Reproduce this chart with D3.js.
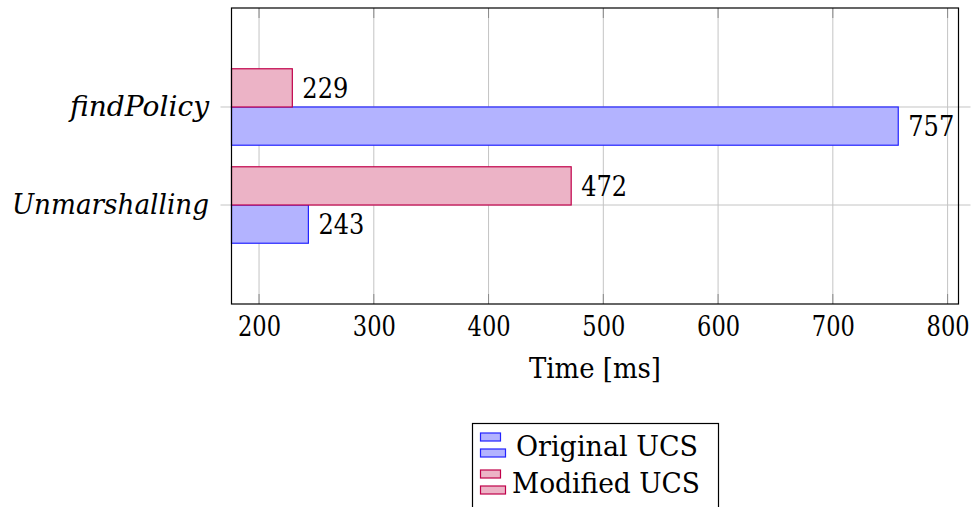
<!DOCTYPE html>
<html lang="en">
<head>
    <meta charset="UTF-8">
    <title>Time per operation</title>
    <style>
        body {
            margin: 0;
            background-color: white;
        }

        svg {
            display: block;
        }

        svg text {
            font-family: 'DejaVu Serif', serif;
        }

        .grid line {
            stroke: #c4c4c4;
            stroke-width: 1px;
        }

        .tick-mark {
            stroke: #8a8a8a;
            stroke-width: 1px;
        }

        .frame {
            fill: none;
            stroke: black;
            stroke-width: 1.2px;
        }
    </style>
    <script src="https://d3js.org/d3.v7.min.js"></script>
</head>
<body>

<script>
    // data, bottom category first
    const categories = ["Unmarshalling", "findPolicy"];
    const originalUCS = [243, 757];
    const modifiedUCS = [472, 229];
    const xTicks = [200, 300, 400, 500, 600, 700, 800];
    const seriesNames = ["Original UCS", "Modified UCS"];

    const width = 971;
    const height = 507;

    const plot = {left: 231.5, right: 958.5, top: 8, bottom: 304};
    const fs = 28;
    const numLen = 46; // width of a 3-digit number in the original

    const blue = {fill: "#b3b3ff", stroke: "#2424ff"};
    const pink = {fill: "#ecb3c6", stroke: "#c0004a"};

    const svg = d3.select("body")
                  .append("svg")
                  .attr("width", width)
                  .attr("height", height);

    const x = d3.scaleLinear()
                .domain([176, 809.5])
                .range([plot.left, plot.right]);

    const y = d3.scaleLinear()
                .domain([-1.01, 2.01])
                .range([plot.bottom, plot.top]);

    const barH = y(0) - y(0.39);

    // vertical grid
    const grid = svg.append("g").attr("class", "grid");
    grid.selectAll(".vgrid")
        .data(xTicks)
        .enter()
        .append("line")
        .attr("x1", d => x(d)).attr("x2", d => x(d))
        .attr("y1", plot.top).attr("y2", plot.bottom);

    // horizontal grid, sticking out on both sides like pgfplots ticks
    grid.selectAll(".hgrid")
        .data(categories)
        .enter()
        .append("line")
        .attr("x1", plot.left - 11).attr("x2", plot.right + 12)
        .attr("y1", (d, i) => y(i)).attr("y2", (d, i) => y(i));

    const ticks = svg.append("g");
    xTicks.forEach(t => {
        ticks.append("line").attr("class", "tick-mark")
             .attr("x1", x(t)).attr("x2", x(t))
             .attr("y1", plot.bottom).attr("y2", plot.bottom - 10);
        ticks.append("line").attr("class", "tick-mark")
             .attr("x1", x(t)).attr("x2", x(t))
             .attr("y1", plot.top).attr("y2", plot.top + 10);
    });

    // bars
    const bars = svg.append("g");
    const series = [
        {values: originalUCS, col: blue, off: 0},
        {values: modifiedUCS, col: pink, off: -1}
    ];

    series.forEach(s => {
        bars.selectAll(null)
            .data(s.values)
            .enter()
            .append("rect")
            .attr("x", x.range()[0])
            .attr("y", (d, i) => y(i) + s.off * barH)
            .attr("width", d => x(d) - x.range()[0])
            .attr("height", barH)
            .attr("fill", s.col.fill)
            .attr("stroke", s.col.stroke)
            .attr("stroke-width", 1.2);

        bars.selectAll(null)
            .data(s.values)
            .enter()
            .append("text")
            .attr("x", d => x(d) + 10)
            .attr("y", (d, i) => y(i) + s.off * barH + barH / 2 + 10)
            .attr("font-size", fs)
            .attr("textLength", numLen)
            .attr("lengthAdjust", "spacingAndGlyphs")
            .text(d => d);
    });

    svg.append("rect")
       .attr("class", "frame")
       .attr("x", plot.left)
       .attr("y", plot.top)
       .attr("width", plot.right - plot.left)
       .attr("height", plot.bottom - plot.top);

    // x axis labels
    const xAxis = d3.axisBottom(x).tickValues(xTicks).tickSize(0).tickPadding(0);
    const gx = svg.append("g")
                  .attr("transform", `translate(0,${plot.bottom})`)
                  .call(xAxis)
                  .attr("font-family", null);
    gx.select(".domain").remove();
    gx.selectAll("text")
      .attr("font-size", fs)
      .attr("fill", "black")
      .attr("dy", null)
      .attr("y", 32)
      .attr("textLength", 43)
      .attr("lengthAdjust", "spacingAndGlyphs");

    svg.append("text")
       .attr("x", (plot.left + plot.right) / 2)
       .attr("y", 378)
       .attr("text-anchor", "middle")
       .attr("font-size", fs)
       .attr("textLength", 132)
       .attr("lengthAdjust", "spacingAndGlyphs")
       .text("Time [ms]");

    // y labels
    const yLabLen = [197, 139];
    svg.selectAll(".ylab")
       .data(categories)
       .enter()
       .append("text")
       .attr("x", 209)
       .attr("y", (d, i) => y(i) + 9)
       .attr("text-anchor", "end")
       .attr("font-style", "italic")
       .attr("font-size", fs)
       .attr("textLength", (d, i) => yLabLen[i])
       .attr("lengthAdjust", "spacingAndGlyphs")
       .text(d => d);

    // legend
    const legend = svg.append("g");
    legend.append("rect")
          .attr("x", 472.5).attr("y", 423.5)
          .attr("width", 246).attr("height", 100)
          .attr("fill", "white")
          .attr("stroke", "black")
          .attr("stroke-width", 1.2);

    const legendCols = [blue, pink];
    seriesNames.forEach((name, i) => {
        const top = 433 + i * 37;
        legend.append("rect")
              .attr("x", 480.5).attr("y", top)
              .attr("width", 20).attr("height", 8)
              .attr("fill", legendCols[i].fill)
              .attr("stroke", legendCols[i].stroke)
              .attr("stroke-width", 1.2);
        legend.append("rect")
              .attr("x", 480.5).attr("y", top + 16)
              .attr("width", 25).attr("height", 8)
              .attr("fill", legendCols[i].fill)
              .attr("stroke", legendCols[i].stroke)
              .attr("stroke-width", 1.2);
        legend.append("text")
              .attr("x", i === 0 ? 516 : 512)
              .attr("y", 456 + i * 37)
              .attr("font-size", fs)
              .attr("textLength", i === 0 ? 182 : 188)
              .attr("lengthAdjust", "spacingAndGlyphs")
              .text(name);
    });
</script>

</body>
</html>
